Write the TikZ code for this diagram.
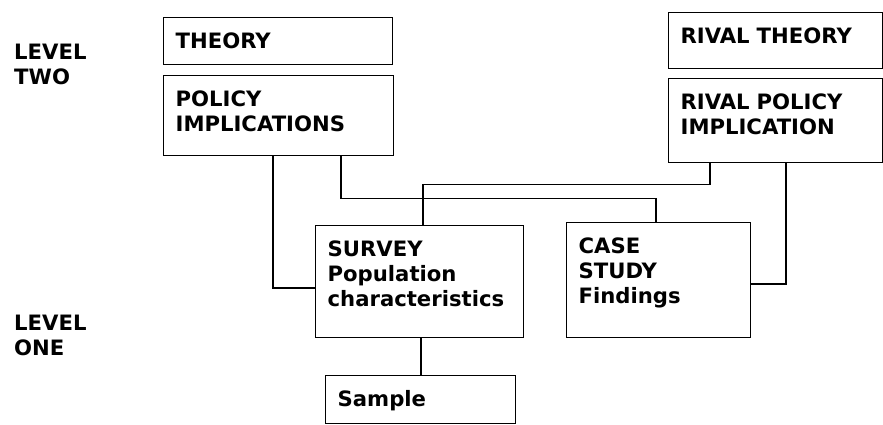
\documentclass[tikz,border=0pt]{standalone}
\usepackage{fontspec}
\setmainfont{DejaVu Sans}
\usepackage{tikz}
\usetikzlibrary{calc}

\begin{document}
\begin{tikzpicture}[x=0.85pt, y=-0.85pt,
		box_style/.style={draw=black, line width=1.1pt, anchor=north west, align=left,
			inner xsep=10.2pt, inner ysep=12.75pt, text height=13.1pt,
			font=\bfseries\fontsize{18}{21.25}\selectfont},
		level_style/.style={anchor=north west, align=left, inner sep=0pt,
			font=\bfseries\fontsize{18}{21.25}\selectfont},
		edge_style/.style={draw=black, line width=1.1pt}]

		\useasboundingbox (0,0) rectangle (883,425);

		% level labels
		\node[level_style] (lvltwo) at (14,44) {LEVEL\\TWO};
		\node[level_style] (lvlone) at (14,315) {LEVEL\\ONE};

		% boxes
		\node[box_style, text width=174.3pt, text depth=1.35pt] (theory) at (163,17) {THEORY};
		\node[box_style, text width=175.1pt, text depth=29.4pt] (policy) at (163,75) {POLICY\\IMPLICATIONS};
		\node[box_style, text width=161.5pt, text depth=9pt] (rtheory) at (668,12) {RIVAL THEORY};
		\node[box_style, text width=161.5pt, text depth=32.8pt] (rpolicy) at (668,78) {RIVAL POLICY\\IMPLICATION};
		\node[box_style, text width=156.4pt, text depth=56.6pt] (survey) at (315,225) {SURVEY\\Population\\characteristics};
		\node[box_style, text width=136pt, text depth=59.15pt] (case) at (566,222) {CASE\\STUDY\\Findings};
		\node[box_style, text width=141.1pt, text depth=2.2pt] (sample) at (325,375) {Sample};

		% connectors
		\draw[edge_style] ($(policy.south west)+(110,0)$) |- ($(survey.north west)+(0,63)$);
		\draw[edge_style] ($(policy.south west)+(178,0)$) -- ++(0,42) -| ($(case.north west)+(90,0)$);
		\draw[edge_style] ($(rpolicy.south west)+(42,0)$) -- ++(0,21) -| ($(survey.north west)+(108,0)$);
		\draw[edge_style] ($(rpolicy.south west)+(118,0)$) |- ($(case.north east)+(0,62)$);
		\draw[edge_style] ($(survey.south west)+(106,0)$) -- ($(sample.north west)+(96,0)$);
\end{tikzpicture}
\end{document}
